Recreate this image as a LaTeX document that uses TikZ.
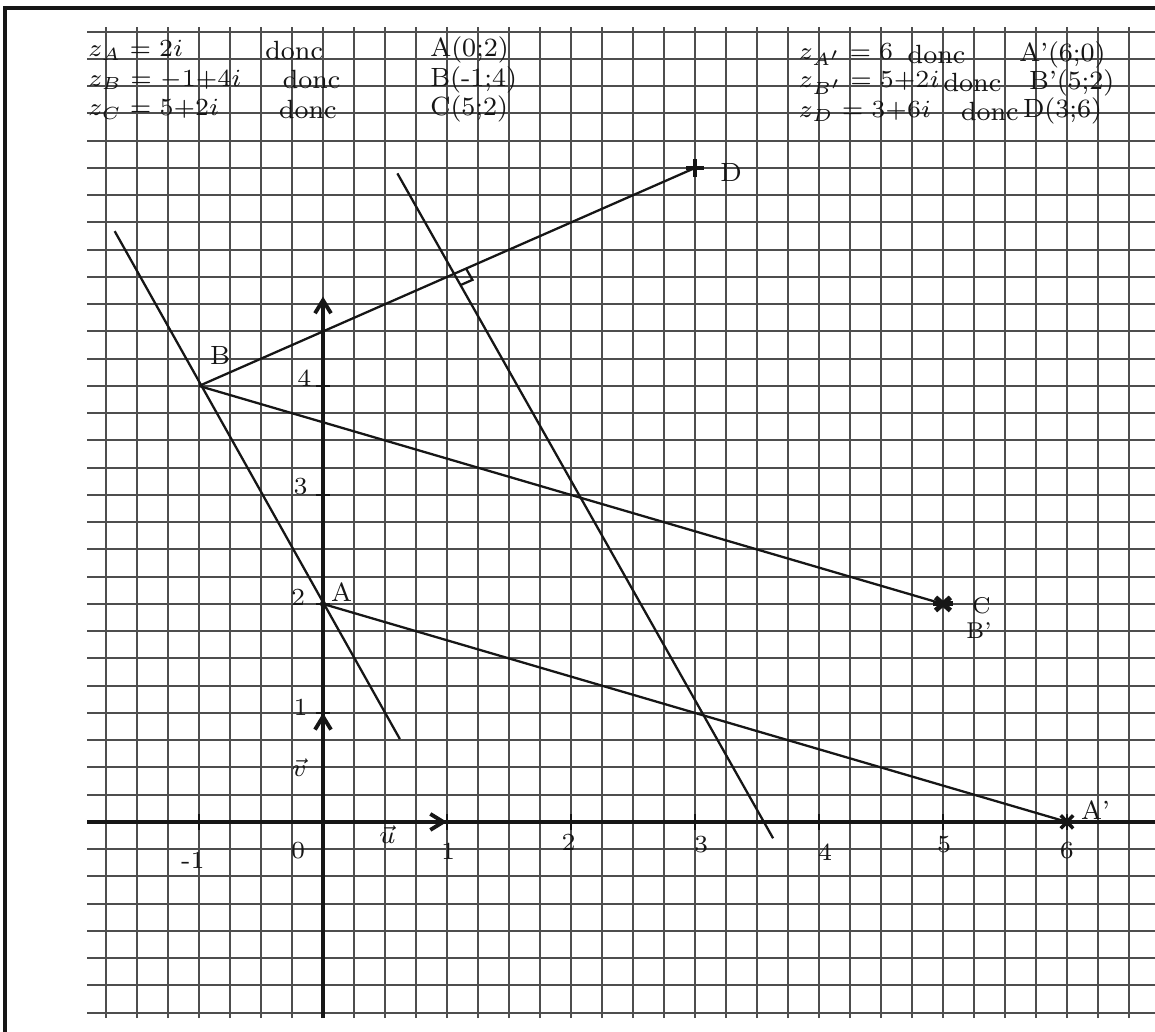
\documentclass[tikz,border=0pt]{standalone}
\usepackage{amsmath,amssymb}
\usepackage{tikz}
\usetikzlibrary{arrows.meta,calc}
\definecolor{mInk}{HTML}{161616}
\definecolor{mGrid}{HTML}{4E4E4E}
\tikzset{
  grd/.style  = {draw=mGrid, line width=0.55pt},
  ax/.style   = {draw=mInk, line width=1.1pt},
  tck/.style  = {draw=mInk, line width=0.7pt},
  ln/.style   = {draw=mInk, line width=0.65pt},
  vec/.style  = {draw=mInk, line width=1.1pt, -{Straight Barb[length=1.3mm,width=1.6mm]}},
  lbl/.style  = {font=\fontsize{7}{8}\selectfont, text=mInk, inner sep=0pt},
  ptl/.style  = {font=\fontsize{7.5}{8}\selectfont, text=mInk, inner sep=0pt},
  ptls/.style = {font=\fontsize{6.5}{7}\selectfont, text=mInk, inner sep=0pt},
  hw/.style   = {font=\fontsize{7.5}{8}\selectfont, text=mInk, inner sep=0pt, anchor=west},
}

\begin{document}
\begin{tikzpicture}[x=1.24cm, y=1.09cm]
  \useasboundingbox (-2.605,-1.927) rectangle (6.71,7.541);
  % frame of the scan
  \coordinate (f1) at (-2.565,-1.927);
  \coordinate (f2) at (-2.565,7.468);
  \coordinate (f3) at (6.71,7.468);
  \draw[draw=mInk, line width=0.9pt] (f1) -- (f2) -- (f3);

  % squared paper
  \foreach \i in {-7,...,26} \draw[grd] (\i/4,-1.8) -- (\i/4,7.29);
  \foreach \j in {-7,...,29} \draw[grd] (-1.9,\j/4) -- (6.71,\j/4);

  % axes
  \coordinate (O)  at (0,0);
  \coordinate (xl) at (-1.9,0);
  \coordinate (xr) at (6.71,0);
  \coordinate (yb) at (0,-1.8);
  \coordinate (yt) at (0,4.82);
  \draw[ax] (xl) -- (xr);
  \draw[vec] (yb) -- (yt);
  \foreach \k in {-1,1,2,...,6} \draw[tck] (\k,-0.07) -- (\k,0.07);
  \foreach \k in {1,...,4} \draw[tck] (-0.06,\k) -- (0.06,\k);
  \coordinate (U) at (1,0);
  \coordinate (V) at (0,1);
  \draw[vec] (O) -- (U);
  \draw[vec] (O) -- (V);

  % graduations
  \node[lbl] (gxm1) at (-1.05,-0.35) {-1};
  \node[lbl] (gx0)  at (-0.2,-0.26)  {0};
  \node[lbl] (gx1)  at (1.01,-0.27)  {1};
  \node[lbl] (gx2)  at (1.98,-0.19)  {2};
  \node[lbl] (gx3)  at (3.05,-0.21)  {3};
  \node[lbl] (gx4)  at (4.05,-0.28)  {4};
  \node[lbl] (gx5)  at (5.01,-0.21)  {5};
  \node[lbl] (gx6)  at (6.0,-0.26)   {6};
  \node[lbl] (gy1)  at (-0.18,1.05)  {1};
  \node[lbl] (gy2)  at (-0.2,2.06)   {2};
  \node[lbl] (gy3)  at (-0.18,3.08)  {3};
  \node[lbl] (gy4)  at (-0.15,4.07)  {4};
  \node[lbl] (lu)   at (0.52,-0.12)  {$\vec{u}$};
  \node[lbl] (lv)   at (-0.19,0.5)   {$\vec{v}$};

  % points
  \coordinate (A)  at (0,2);
  \coordinate (B)  at (-1,4);
  \coordinate (C)  at (5,2);
  \coordinate (D)  at (3,6);
  \coordinate (Ap) at (6,0);
  \coordinate (L1) at (-1.68,5.42);
  \coordinate (L2) at (0.62,0.76);
  \coordinate (M1) at (0.6,5.95);
  \coordinate (M2) at (3.63,-0.15);

  \draw[ln] (L1) -- (L2);
  \draw[ln] (M1) -- (M2);
  \draw[ln] (B) -- (D);
  \draw[ln] (B) -- (C);
  \draw[ln] (A) -- (Ap);

  % right angle on (BD)
  \coordinate (H)  at (intersection of B--D and M1--M2);
  \coordinate (h1) at ($(H)!1.3mm!(D)$);
  \coordinate (h2) at ($(H)!1.3mm!(M2)$);
  \coordinate (h3) at ($(h1)+(h2)-(H)$);
  \draw[ln] (h1) -- (h3) -- (h2);

  % marks
  \fill[mInk] (A) circle (0.9pt);
  \draw[ln, line width=0.9pt] ($(D)+(-0.07,0)$) -- ($(D)+(0.07,0)$);
  \draw[ln, line width=0.9pt] ($(D)+(0,-0.08)$) -- ($(D)+(0,0.08)$);
  \draw[ln, line width=1.4pt] ($(C)+(-0.06,-0.06)$) -- ($(C)+(0.06,0.06)$);
  \draw[ln, line width=1.4pt] ($(C)+(-0.06,0.06)$) -- ($(C)+(0.06,-0.06)$);
  \draw[ln, line width=1.4pt] ($(C)+(-0.08,0)$) -- ($(C)+(0.08,0)$);
  \draw[ln, line width=1pt] ($(Ap)+(-0.05,-0.06)$) -- ($(Ap)+(0.05,0.06)$);
  \draw[ln, line width=1pt] ($(Ap)+(-0.05,0.06)$) -- ($(Ap)+(0.05,-0.06)$);

  \node[ptl]  (nA)  at (0.15,2.11)  {A};
  \node[ptl]  (nB)  at (-0.83,4.28) {B};
  \node[ptl]  (nD)  at (3.29,5.96)  {D};
  \node[ptls] (nC)  at (5.31,1.98)  {C};
  \node[ptls] (nBp) at (5.29,1.76)  {B'};
  \node[ptl]  (nAp) at (6.23,0.11)  {A'};

  % affixes and coordinates
  \node[hw] (zA)  at (-1.90,7.08) {$z_A = 2i$};
  \node[hw] (zB)  at (-1.90,6.81) {$z_B = {-}1{+}4i$};
  \node[hw] (zC)  at (-1.90,6.54) {$z_C = 5{+}2i$};
  \node[hw] (dA)  at (-0.47,7.08) {donc};
  \node[hw] (dB)  at (-0.33,6.81) {donc};
  \node[hw] (dC)  at (-0.36,6.54) {donc};
  \node[hw] (cA)  at (0.86,7.08)  {A(0;2)};
  \node[hw] (cB)  at (0.86,6.81)  {B(-1;4)};
  \node[hw] (cC)  at (0.86,6.54)  {C(5;2)};
  \node[hw] (zAp) at (3.83,7.04)  {$z_{A'} = 6$};
  \node[hw] (zBp) at (3.83,6.78)  {$z_{B'} = 5{+}2i$};
  \node[hw] (zD)  at (3.83,6.52)  {$z_D = 3{+}6i$};
  \node[hw] (dAp) at (4.71,7.04)  {donc};
  \node[hw] (dBp) at (5.00,6.78)  {donc};
  \node[hw] (dD)  at (5.14,6.52)  {donc};
  \node[hw] (cAp) at (5.61,7.04)  {A'(6;0)};
  \node[hw] (cBp) at (5.69,6.78)  {B'(5;2)};
  \node[hw] (cD)  at (5.64,6.52)  {D(3;6)};
\end{tikzpicture}
\end{document}
